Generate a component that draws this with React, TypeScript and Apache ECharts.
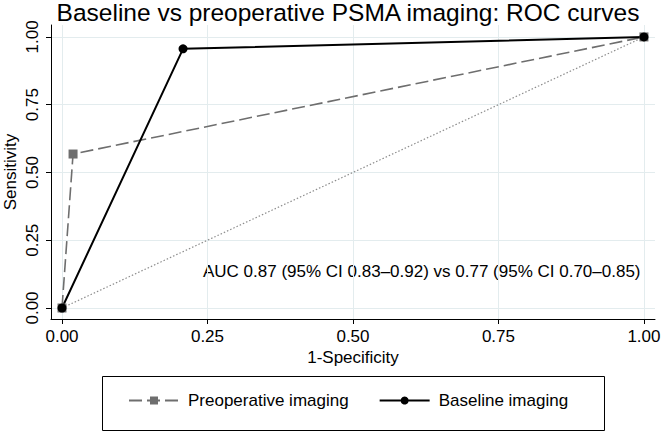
import React, { useEffect, useRef } from "react";
import * as echarts from "echarts";

const titleText = "Baseline vs preoperative PSMA imaging: ROC curves";
const xName = "1-Specificity";
const yName = "Sensitivity";
const tickValues = [0, 0.25, 0.5, 0.75, 1];
const refX = [0, 1];
const refY = [0, 1];
const preopName = "Preoperative imaging";
const preopX = [0, 0.019, 1];
const preopY = [0, 0.568, 1];
const baseName = "Baseline imaging";
const baseX = [0, 0.208, 1];
const baseY = [0, 0.956, 1];
const aucText = "AUC 0.87 (95% CI 0.83\u20130.92) vs 0.77 (95% CI 0.70\u20130.85)";

const FONT = '"Liberation Sans", Arial, Helvetica, sans-serif';

const pairs = (xs: number[], ys: number[]) => xs.map((x, i) => [x, ys[i]]);

export default function App() {
  const ref = useRef<HTMLDivElement>(null);
  useEffect(() => {
    if (!ref.current) return;
    const chart = echarts.init(ref.current, undefined, { renderer: "svg" });
    const axisCommon = {
      type: "value" as const,
      axisLine: { show: true, onZero: false, lineStyle: { color: "#000", width: 1 } },
      axisTick: { show: true, length: 5, customValues: tickValues, lineStyle: { color: "#000" } },
      splitLine: { show: true, lineStyle: { color: "#e3ecee", width: 1 } },
      nameLocation: "middle" as const,
      nameMoveOverlap: false,
      nameTextStyle: { fontFamily: FONT, fontSize: 17, color: "#000" },
    };
    chart.setOption({
      animation: false,
      backgroundColor: "#fff",
      textStyle: { fontFamily: FONT },
      grid: {
        left: 51,
        right: 6,
        top: 25,
        bottom: 114,
        containLabel: false,
        outerBoundsMode: "none",
      },
      xAxis: {
        ...axisCommon,
        min: -0.0189,
        max: 1.019,
        name: xName,
        nameGap: 30,
        axisLabel: {
          customValues: tickValues,
          formatter: (v: number) => v.toFixed(2),
          fontFamily: FONT,
          fontSize: 17,
          color: "#000",
          margin: 9,
        },
      },
      yAxis: {
        ...axisCommon,
        min: -0.0406,
        max: 1.044,
        name: yName,
        nameGap: 32,
        axisLabel: {
          customValues: tickValues,
          formatter: (v: number) => v.toFixed(2),
          fontFamily: FONT,
          fontSize: 17,
          color: "#000",
          rotate: 90,
          margin: 10,
        },
      },
      legend: {
        data: [preopName, baseName],
        left: 128,
        top: 392,
        padding: 0,
        itemWidth: 50,
        itemHeight: 10,
        itemGap: 30,
        textStyle: { fontFamily: FONT, fontSize: 17, color: "#000", padding: [0, 0, 0, 4] },
      },
      graphic: [
        {
          type: "text",
          x: 348,
          y: 12,
          style: {
            text: titleText,
            font: `24.5px ${FONT}`,
            fill: "#000",
            textAlign: "center",
            textVerticalAlign: "middle",
          },
        },
        {
          type: "text",
          x: 203,
          y: 271,
          style: {
            text: aucText,
            font: `17px ${FONT}`,
            fill: "#000",
            textAlign: "left",
            textVerticalAlign: "middle",
          },
        },
        {
          type: "rect",
          shape: { x: 102.5, y: 376.5, width: 502, height: 54 },
          style: { fill: "none", stroke: "#000", lineWidth: 1 },
        },
      ],
      series: [
        {
          name: "Reference",
          type: "line",
          data: pairs(refX, refY),
          showSymbol: false,
          symbol: "none",
          lineStyle: { color: "#8c8c8c", width: 1.2, type: [1.5, 2] },
          silent: true,
        },
        {
          name: preopName,
          type: "line",
          data: pairs(preopX, preopY),
          symbol: "rect",
          symbolSize: 9,
          color: "#6e6e6e",
          itemStyle: { color: "#6e6e6e" },
          lineStyle: { color: "#6e6e6e", width: 1.6, type: [13, 5] },
        },
        {
          name: baseName,
          type: "line",
          data: pairs(baseX, baseY),
          symbol: "circle",
          symbolSize: 9,
          color: "#000",
          itemStyle: { color: "#000" },
          lineStyle: { color: "#000", width: 2 },
        },
      ],
    });
    return () => chart.dispose();
  }, []);
  return <div ref={ref} style={{ width: 661, height: 433, position: "absolute", left: 0, top: 0 }} />;
}
